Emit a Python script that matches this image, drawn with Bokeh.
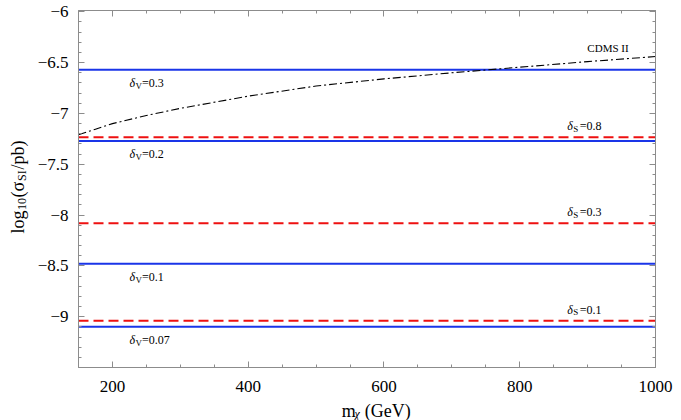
import numpy as np
from bokeh.plotting import figure
from bokeh.layouts import row, column
from bokeh.models import Range1d, LinearAxis, FixedTicker, CustomJSTickFormatter
from bokeh.core.properties import value
from bokeh.embed import file_html
from bokeh.resources import INLINE

# ---------------- data ----------------
mass_range = [150, 1000]
sigma_range = [-9.5, -5.987]

delta_v_labels = ["0.3", "0.2", "0.1", "0.07"]
delta_v_sigma = [-6.57, -7.27, -8.48, -9.10]

delta_s_labels = ["0.8", "0.3", "0.1"]
delta_s_sigma = [-7.235, -8.08, -9.04]

cdms_mass = [150, 175, 200, 250, 300, 400, 500, 600, 700, 800, 900, 1000]
cdms_sigma = [-7.21, -7.155, -7.10, -7.02, -6.95, -6.83, -6.73, -6.66, -6.60, -6.545, -6.49, -6.44]

x_ticks = [200, 400, 600, 800, 1000]
x_tick_labels = ["200", "400", "600", "800", "1000"]
x_minor_ticks = [250, 300, 350, 450, 500, 550, 650, 700, 750, 850, 900, 950]

y_ticks = [-9.0, -8.5, -8.0, -7.5, -7.0, -6.5, -6.0]
y_tick_labels = ["\u22129", "\u22128.5", "\u22128", "\u22127.5", "\u22127", "\u22126.5", "\u22126"]
y_minor_ticks = [round(-9.5 + 0.1 * i, 2) for i in range(36)]

# ---------------- style ----------------
SERIF = "'Liberation Serif', 'Times New Roman', serif"
BLUE = "#1a35e8"
RED = "#ee1111"
GRAY = "#8c8c8c"

YW = 30          # width of the strip holding the y title
MAIN_W = 681 - YW
MAIN_H = 400
XH = 420 - MAIN_H

p = figure(width=MAIN_W, height=MAIN_H, output_backend="svg", toolbar_location=None,
           x_range=Range1d(*mass_range), y_range=Range1d(*sigma_range),
           x_axis_type=None, y_axis_type=None,
           min_border_left=48, min_border_right=26, min_border_top=10, min_border_bottom=33)
p.grid.visible = False
p.outline_line_color = GRAY
p.background_fill_color = "white"
p.border_fill_color = "white"


def fmt(tvals, tlabs):
    return CustomJSTickFormatter(args=dict(tvals=tvals, tlabs=tlabs), code="""
        for (let i = 0; i < tvals.length; i++) {
            if (Math.abs(tvals[i] - tick) < 1e-6) return tlabs[i];
        }
        return "";
    """)


def style_axis(ax, shown):
    ax.axis_line_color = GRAY
    ax.major_tick_line_color = GRAY
    ax.minor_tick_line_color = GRAY
    ax.major_tick_in = 6
    ax.major_tick_out = 0
    ax.minor_tick_in = 3
    ax.minor_tick_out = 0
    ax.major_label_text_font = SERIF
    ax.major_label_text_color = "black"
    if shown:
        ax.major_label_text_font_size = "17px"
    else:
        ax.major_label_text_font_size = "0px"
        ax.major_label_standoff = 0


xb = LinearAxis(ticker=FixedTicker(ticks=x_ticks, minor_ticks=x_minor_ticks),
                formatter=fmt(x_ticks, x_tick_labels))
style_axis(xb, True)
xb.major_label_standoff = 13
p.add_layout(xb, "below")

xt = LinearAxis(ticker=FixedTicker(ticks=x_ticks, minor_ticks=x_minor_ticks),
                formatter=fmt([], []))
style_axis(xt, False)
p.add_layout(xt, "above")

yl = LinearAxis(ticker=FixedTicker(ticks=y_ticks, minor_ticks=y_minor_ticks),
                formatter=fmt(y_ticks, y_tick_labels))
style_axis(yl, True)
yl.major_label_standoff = 10
p.add_layout(yl, "left")

yr = LinearAxis(ticker=FixedTicker(ticks=y_ticks, minor_ticks=y_minor_ticks),
                formatter=fmt([], []))
style_axis(yr, False)
p.add_layout(yr, "right")

# ---------------- lines ----------------
for s in delta_v_sigma:
    p.line(mass_range, [s, s], line_color=BLUE, line_width=2)
for s in delta_s_sigma:
    p.line(mass_range, [s, s], line_color=RED, line_width=2, line_dash="10 5")
p.line(cdms_mass, cdms_sigma, line_color="black", line_width=1.1, line_dash="8 3 2 3")


# ---------------- in-plot labels ----------------
def delta_label(x, y, sub, val, dy):
    common = dict(text_font=value(SERIF), text_color="black", text_baseline="alphabetic",
                  text_align="left")
    p.text([x], [y], text=["\u03b4"], text_font_size="12px", text_font_style="italic",
           y_offset=dy, **common)
    p.text([x], [y], text=[sub], text_font_size="9px", x_offset=6, y_offset=dy + 2.5, **common)
    p.text([x], [y], text=["=" + val], text_font_size="12px", x_offset=12.5, y_offset=dy, **common)


for lab, s in zip(delta_v_labels, delta_v_sigma):
    delta_label(225, s, "V", lab, 13.5)
for lab, s in zip(delta_s_labels, delta_s_sigma):
    delta_label(870, s, "S", lab, -11)

p.text([930], [np.interp(930, cdms_mass, cdms_sigma)], text=["CDMS II"],
       text_font=value(SERIF), text_font_size="11px", text_align="center",
       text_baseline="alphabetic", y_offset=-12, text_color="black")


# ---------------- axis titles (composed so that subscripts stay real text) ----------------
def strip(w, h):
    f = figure(width=w, height=h, output_backend="svg", toolbar_location=None,
               x_range=Range1d(0, w), y_range=Range1d(0, h),
               x_axis_type=None, y_axis_type=None,
               min_border_left=0, min_border_right=0, min_border_top=0, min_border_bottom=0)
    f.grid.visible = False
    f.outline_line_color = None
    f.border_fill_color = "white"
    f.background_fill_color = "white"
    return f


def piece(f, x, y, text, size, angle=0.0, style="normal"):
    f.text([x], [y], text=[text], angle=angle, text_font=value(SERIF), text_font_size=size,
           text_font_style=style, text_baseline="alphabetic", text_align="left",
           text_color="black")


# y title: log10(sigma_SI/pb), rotated, reading upward
yf = strip(YW, 420)
ang = np.pi / 2
bx, by = 17, 187
piece(yf, bx, by, "log", "18px", ang)
piece(yf, bx + 4, by + 23.5, "10", "12px", ang)
piece(yf, bx, by + 36, "(\u03c3", "18px", ang)
piece(yf, bx + 4, by + 52.5, "SI", "12px", ang)
piece(yf, bx, by + 64, "/pb)", "18px", ang)

# x title: m_chi (GeV)
xf = strip(MAIN_W, XH)
tx, ty = 297, 10
piece(xf, tx, ty, "m", "18px")
piece(xf, tx + 14.5, ty - 3, "\u03c7", "12px", style="italic")
piece(xf, tx + 26, ty, "(GeV)", "18px")

layout = row(yf, column(p, xf))
open("out.html", "w").write(file_html(layout, INLINE))
